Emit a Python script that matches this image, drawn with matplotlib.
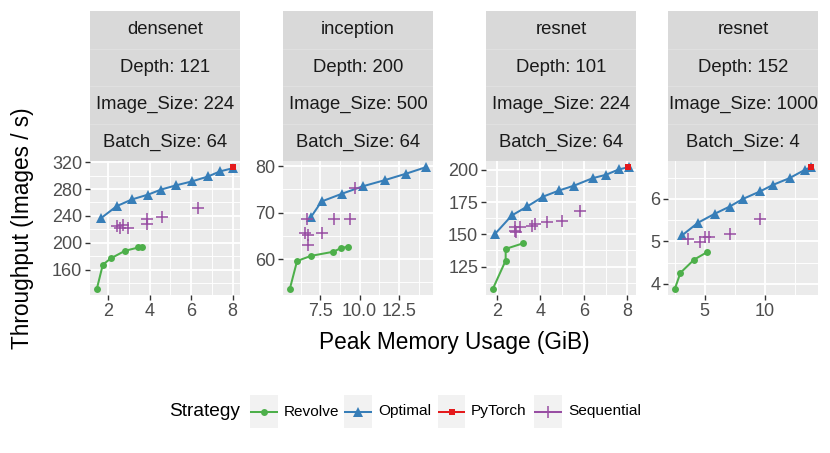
import matplotlib
matplotlib.use("Agg")
import matplotlib.pyplot as plt
from matplotlib.patches import Rectangle
from matplotlib.lines import Line2D
import numpy as np

plt.rcParams['font.family'] = ['Liberation Sans', 'DejaVu Sans']

# ---------------- data ----------------
panel_model = ["densenet", "inception", "resnet", "resnet"]
panel_depth = [121, 200, 101, 152]
panel_image = [224, 500, 224, 1000]
panel_batch = [64, 64, 64, 4]

strategies = ["Revolve", "Optimal", "PyTorch", "Sequential"]

# densenet 121
densenet_revolve_x = [1.44, 1.73, 2.11, 2.80, 3.45, 3.61]
densenet_revolve_y = [131.4, 167.4, 176.7, 188.1, 193.0, 194.0]
densenet_optimal_x = [1.63, 2.40, 3.13, 3.93, 4.54, 5.27, 6.05, 6.83, 7.39, 8.03]
densenet_optimal_y = [236.3, 254.5, 264.4, 271.8, 279.1, 285.5, 291.4, 298.8, 306.2, 311.1]
densenet_pytorch_x = [8.00]
densenet_pytorch_y = [312.6]
densenet_sequential_x = [2.41, 2.56, 2.72, 2.95, 3.85, 3.85, 4.58, 6.34]
densenet_sequential_y = [225.0, 222.6, 226.0, 222.0, 234.8, 228.0, 238.8, 252.1]

# inception 200
inception_revolve_x = [5.57, 6.03, 6.91, 8.34, 8.82, 9.29]
inception_revolve_y = [53.6, 59.6, 60.7, 61.6, 62.4, 62.7]
inception_optimal_x = [6.90, 7.58, 8.90, 10.23, 11.60, 12.96, 14.22]
inception_optimal_y = [69.0, 72.4, 74.1, 75.7, 77.0, 78.4, 79.8]
inception_pytorch_x = []
inception_pytorch_y = []
inception_sequential_x = [6.66, 6.55, 6.74, 6.72, 7.61, 8.40, 9.39, 9.71]
inception_sequential_y = [68.6, 65.7, 65.3, 63.1, 65.7, 68.6, 68.6, 75.2]

# resnet 101
resnet101_revolve_x = [1.82, 2.41, 2.41, 3.22]
resnet101_revolve_y = [107.7, 129.7, 138.7, 143.1]
resnet101_optimal_x = [1.92, 2.69, 3.40, 4.14, 4.87, 5.56, 6.40, 7.01, 7.60, 8.08]
resnet101_optimal_y = [150.3, 164.6, 171.6, 179.3, 184.0, 187.8, 193.5, 196.1, 200.3, 202.1]
resnet101_pytorch_x = [8.03]
resnet101_pytorch_y = [202.1]
resnet101_sequential_x = [2.84, 2.84, 2.90, 3.07, 3.60, 3.75, 4.29, 4.98, 5.82]
resnet101_sequential_y = [155.5, 152.9, 151.5, 155.5, 156.8, 158.1, 159.4, 160.7, 168.4]

# resnet 152
resnet152_revolve_x = [2.50, 2.97, 4.11, 5.22]
resnet152_revolve_y = [3.88, 4.26, 4.57, 4.75]
resnet152_optimal_x = [3.14, 4.44, 5.83, 7.08, 8.19, 9.64, 10.69, 12.08, 13.39, 13.89]
resnet152_optimal_y = [5.15, 5.44, 5.65, 5.82, 6.00, 6.18, 6.33, 6.49, 6.69, 6.75]
resnet152_pytorch_x = [13.89]
resnet152_pytorch_y = [6.75]
resnet152_sequential_x = [3.61, 4.58, 5.00, 5.36, 7.08, 9.58]
resnet152_sequential_y = [5.06, 4.98, 5.10, 5.11, 5.18, 5.53]

x_ticks = [[2, 4, 6, 8], [7.5, 10, 12.5], [2, 4, 6, 8], [5, 10]]
x_ticklabels = [["2", "4", "6", "8"], ["7.5", "10.0", "12.5"], ["2", "4", "6", "8"], ["5", "10"]]
y_ticks = [[160, 200, 240, 280, 320], [60, 70, 80], [125, 150, 175, 200], [4, 5, 6]]
y_ticklabels = [["160", "200", "240", "280", "320"], ["60", "70", "80"],
                ["125", "150", "175", "200"], ["4", "5", "6"]]

x_title = "Peak Memory Usage (GiB)"
y_title = "Throughput (Images / s)"
legend_title = "Strategy"

panels = [
    {s: (globals()[f"{p}_{s.lower()}_x"], globals()[f"{p}_{s.lower()}_y"]) for s in strategies}
    for p in ["densenet", "inception", "resnet101", "resnet152"]
]

# ---------------- style ----------------
colors = {"Revolve": "#4DAF4A", "Optimal": "#377EB8", "PyTorch": "#E41A1C", "Sequential": "#984EA3"}
markers = {"Revolve": "o", "Optimal": "^", "PyTorch": "s", "Sequential": "+"}
msizes = {"Revolve": 5.0, "Optimal": 6.6, "PyTorch": 5.0, "Sequential": 8.0}
lines = {"Revolve": True, "Optimal": True, "PyTorch": False, "Sequential": False}

W, H, DPI = 830, 453, 100
fig = plt.figure(figsize=(W / DPI, H / DPI), dpi=DPI)

panel_left = [90, 283, 486, 668]
panel_w = 150
panel_top, panel_bot = 161, 295
strip_top = 11


def fx(px):
    return px / W


def fy(py):
    return 1 - py / H


def minor_between(ticks, lo, hi):
    t = list(ticks)
    step = t[1] - t[0]
    ext = [t[0] - step] + t + [t[-1] + step]
    mids = [(a + b) / 2 for a, b in zip(ext[:-1], ext[1:])]
    return [m for m in mids if lo <= m <= hi]


for i, data in enumerate(panels):
    ax = fig.add_axes([fx(panel_left[i]), fy(panel_bot), panel_w / W, (panel_bot - panel_top) / H])
    ax.set_facecolor("#EBEBEB")
    for sp in ax.spines.values():
        sp.set_visible(False)

    allx = np.concatenate([np.asarray(v[0], float) for v in data.values() if len(v[0])])
    ally = np.concatenate([np.asarray(v[1], float) for v in data.values() if len(v[1])])
    xr = allx.max() - allx.min()
    yr = ally.max() - ally.min()
    xlo, xhi = allx.min() - 0.05 * xr, allx.max() + 0.05 * xr
    ylo, yhi = ally.min() - 0.05 * yr, ally.max() + 0.05 * yr
    ax.set_xlim(xlo, xhi)
    ax.set_ylim(ylo, yhi)

    ax.set_xticks(x_ticks[i])
    ax.set_xticklabels(x_ticklabels[i])
    ax.set_yticks(y_ticks[i])
    ax.set_yticklabels(y_ticklabels[i])
    ax.set_xticks(minor_between(x_ticks[i], xlo, xhi), minor=True)
    ax.set_yticks(minor_between(y_ticks[i], ylo, yhi), minor=True)
    ax.grid(which="major", color="white", lw=1.35)
    ax.grid(which="minor", color="white", lw=0.65)
    ax.set_axisbelow(True)
    ax.tick_params(which="major", direction="out", length=3.8, width=1.0, color="#333333",
                   labelcolor="#4D4D4D", labelsize=13, pad=1.8)
    ax.tick_params(which="minor", length=0)

    for s in strategies:
        xs, ys = data[s]
        if not len(xs):
            continue
        if lines[s]:
            ax.plot(xs, ys, color=colors[s], lw=1.45, zorder=2)
    for s in strategies:
        xs, ys = data[s]
        if not len(xs):
            continue
        if s == "Sequential":
            ax.plot(xs, ys, ls="none", marker="+", ms=msizes[s], mew=1.1,
                    color=colors[s], zorder=3)
        else:
            ax.plot(xs, ys, ls="none", marker=markers[s], ms=msizes[s], mew=0,
                    color=colors[s], zorder=3)

    # strip
    sax = fig.add_axes([fx(panel_left[i]), fy(panel_top), panel_w / W, (panel_top - strip_top) / H])
    sax.set_xlim(0, 1)
    sax.set_ylim(4, 0)
    sax.axis("off")
    sax.add_patch(Rectangle((0, 0), 1, 4, facecolor="#D9D9D9", edgecolor="none"))
    for k in (1, 2, 3):
        sax.axhline(k, color="#E2E2E2", lw=0.6)
    labels = [panel_model[i], f"Depth: {panel_depth[i]}",
              f"Image_Size: {panel_image[i]}", f"Batch_Size: {panel_batch[i]}"]
    for k, t in enumerate(labels):
        sax.text(0.5, k + 0.5, t, ha="center", va="center", fontsize=13.3, color="#1A1A1A")

# axis titles
fig.text(fx(454), fy(343), x_title, ha="center", va="center", fontsize=16.3, color="black")
fig.text(fx(22), fy(228), y_title, ha="center", va="center", rotation=90, fontsize=16.3,
         color="black")

# legend (layout in pixel space)
lax = fig.add_axes([0, 0, 1, 1])
lax.set_xlim(0, W)
lax.set_ylim(H, 0)
lax.axis("off")
lax.patch.set_alpha(0)
lax.text(169, 411.5, legend_title, ha="left", va="center", fontsize=13.8, color="black")
key_x = [250, 344.3, 437.7, 534.3]
for s, kx in zip(strategies, key_x):
    lax.add_patch(Rectangle((kx, 395), 27.7, 33, facecolor="#F2F2F2", edgecolor="none"))
    lax.add_line(Line2D([kx + 1, kx + 26.7], [411.5, 411.5], color=colors[s], lw=1.45))
    if s == "Sequential":
        lax.plot([kx + 13.85], [411.5], marker="+", ms=msizes[s], mew=1.1, color=colors[s])
    else:
        lax.plot([kx + 13.85], [411.5], marker=markers[s], ms=msizes[s], mew=0, color=colors[s])
    lax.text(kx + 33.5, 411.5, s, ha="left", va="center", fontsize=11.1, color="black")

fig.savefig("out.png", dpi=DPI)
